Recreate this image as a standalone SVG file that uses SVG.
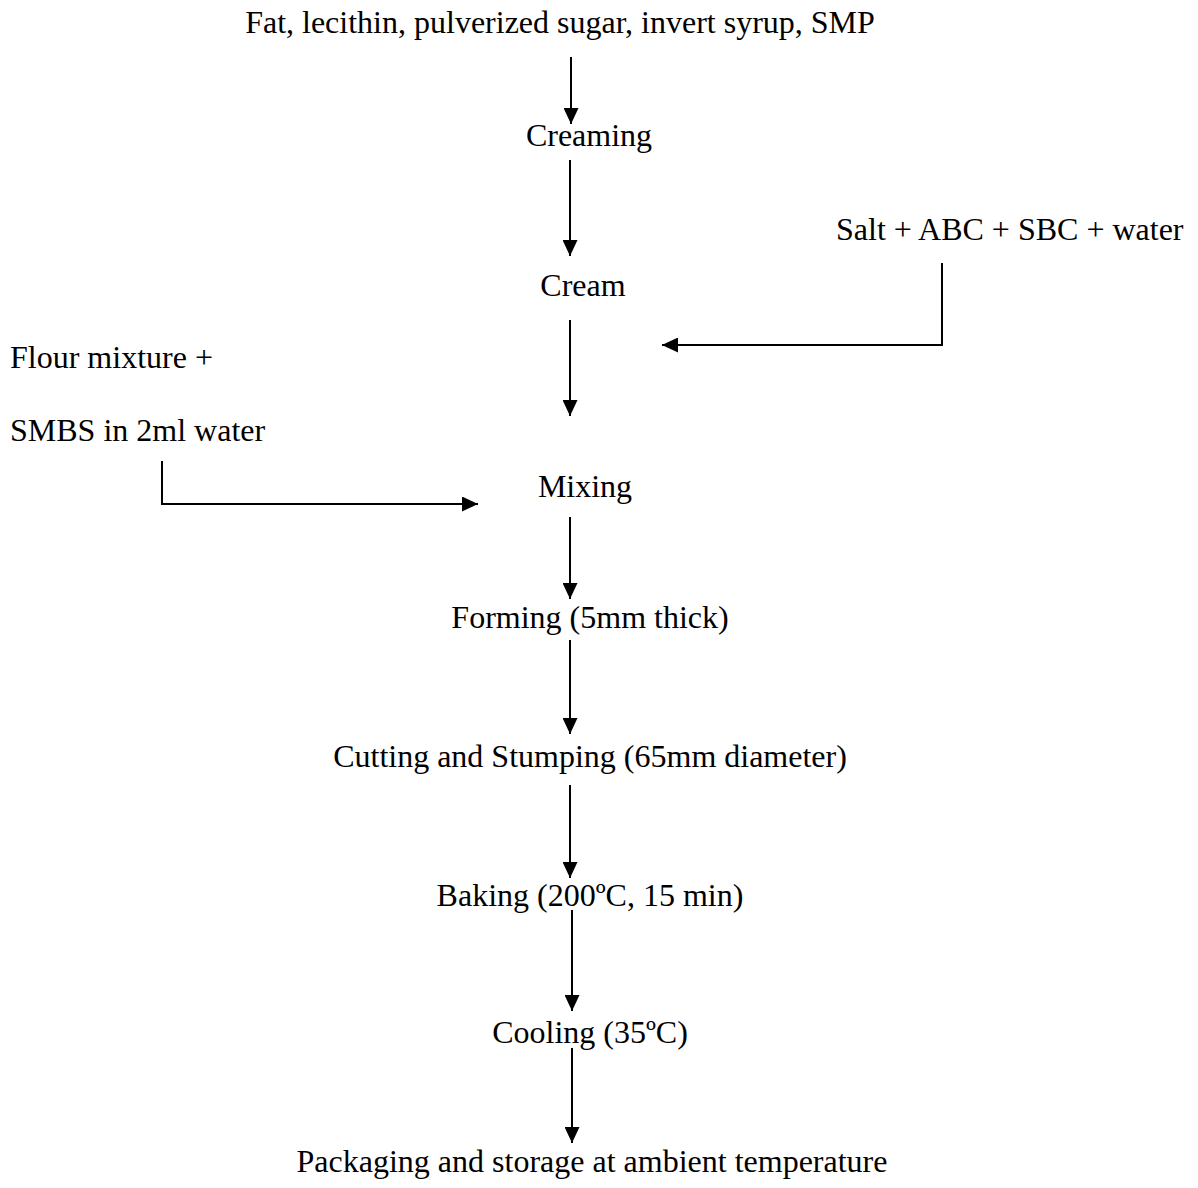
<svg xmlns="http://www.w3.org/2000/svg" width="1198" height="1188" viewBox="0 0 1198 1188">
<style>
text{font-family:"Liberation Serif","Times New Roman",serif;font-size:32px;fill:#000}
.c{text-anchor:middle}
.ln{stroke:#000;stroke-width:2;fill:none}
</style>
<defs>
<marker id="ah" viewBox="0 0 16 15" refX="16" refY="7.5" markerWidth="16" markerHeight="15" markerUnits="userSpaceOnUse" orient="auto">
<path d="M0,0 L16,7.5 L0,15 Z" fill="#000"/>
</marker>
</defs>
<rect width="1198" height="1188" fill="#fff"/>
<g id="n-inputs"><text class="c" x="560" y="33">Fat, lecithin, pulverized sugar, invert syrup, SMP</text></g>
<g id="n-creaming"><text class="c" x="589" y="146">Creaming</text></g>
<g id="n-cream"><text class="c" x="583" y="296">Cream</text></g>
<g id="n-salt"><text x="836" y="240">Salt + ABC + SBC + water</text></g>
<g id="n-flour"><text x="10" y="368">Flour mixture +</text><text x="10" y="441">SMBS in 2ml water</text></g>
<g id="n-mixing"><text class="c" x="585" y="497">Mixing</text></g>
<g id="n-forming"><text class="c" x="590" y="628">Forming (5mm thick)</text></g>
<g id="n-cutting"><text class="c" x="590" y="767">Cutting and Stumping (65mm diameter)</text></g>
<g id="n-baking"><text class="c" x="590" y="906">Baking (200ºC, 15 min)</text></g>
<g id="n-cooling"><text class="c" x="590" y="1043">Cooling (35ºC)</text></g>
<g id="n-packaging"><text class="c" x="592" y="1172">Packaging and storage at ambient temperature</text></g>
<g id="connectors" class="ln" marker-end="url(#ah)">
<line x1="571" y1="57" x2="571" y2="124"/>
<line x1="570" y1="160" x2="570" y2="256"/>
<line x1="570" y1="320" x2="570" y2="416"/>
<polyline points="942,263 942,345 662,345"/>
<polyline points="162,461 162,504 478,504"/>
<line x1="570" y1="517" x2="570" y2="599"/>
<line x1="570" y1="640" x2="570" y2="734"/>
<line x1="570" y1="785" x2="570" y2="878"/>
<line x1="572" y1="910" x2="572" y2="1011"/>
<line x1="572" y1="1048" x2="572" y2="1143"/>
</g>
</svg>
